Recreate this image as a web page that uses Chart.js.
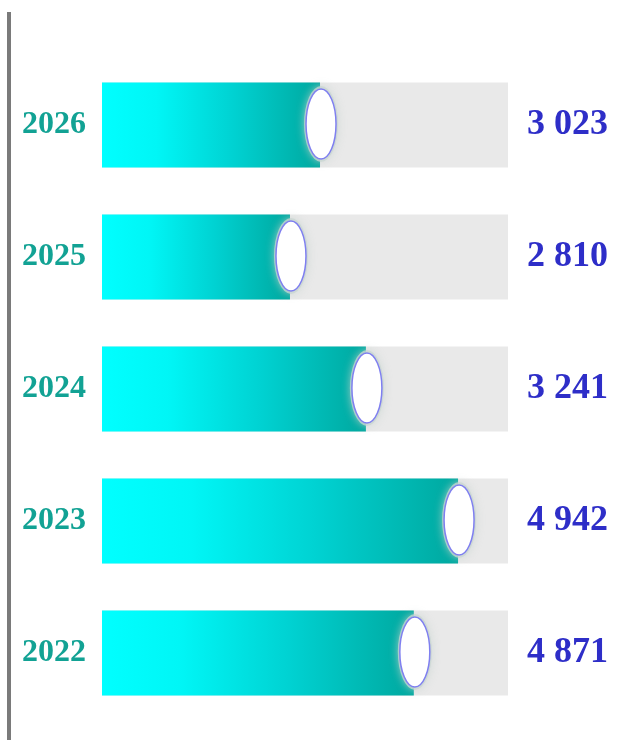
<!DOCTYPE html>
<html>
<head>
<meta charset="utf-8">
<script src="https://cdn.jsdelivr.net/npm/chart.js@4"></script>
<style>
  html, body { margin: 0; padding: 0; background: #ffffff; }
  #wrap { width: 621px; height: 740px; position: relative; }
</style>
</head>
<body>
<div id="wrap"><canvas id="progressChart"></canvas></div>
<script>
// Chart data
const years = ["2026", "2025", "2024", "2023", "2022"];
const totals = ["3 023", "2 810", "3 241", "4 942", "4 871"];
const fillLevels = [53.7, 46.3, 65.0, 87.7, 76.8]; // bar fill, % of track
const trackLevels = [100, 100, 100, 100, 100];

// Left grey rule
const leftRule = {
  id: "leftRule",
  beforeDraw(chart) {
    const ctx = chart.ctx;
    ctx.save();
    ctx.fillStyle = "#7a7a7a";
    ctx.fillRect(7, 12, 4, chart.height - 12);
    ctx.restore();
  }
};

// White knob at the end of each bar
const knobs = {
  id: "knobs",
  afterDatasetsDraw(chart) {
    const ctx = chart.ctx;
    const meta = chart.getDatasetMeta(0);
    meta.data.forEach(bar => {
      const cx = bar.x + 1, cy = bar.y - 1;
      ctx.save();
      // soft halo
      ctx.beginPath();
      ctx.ellipse(cx, cy, 17, 38, 0, 0, Math.PI * 2);
      ctx.shadowColor = "rgba(200, 212, 208, 1)";
      ctx.shadowBlur = 8;
      ctx.fillStyle = "rgba(200, 214, 210, 0.75)";
      ctx.fill();
      ctx.shadowColor = "transparent";
      ctx.beginPath();
      ctx.ellipse(cx, cy, 15, 35, 0, 0, Math.PI * 2);
      ctx.fillStyle = "#ffffff";
      ctx.fill();
      ctx.lineWidth = 1.5;
      ctx.strokeStyle = "#7f7ff0";
      ctx.stroke();
      ctx.restore();
    });
  }
};

function barGradient(context) {
  const chart = context.chart;
  const { chartArea, scales } = chart;
  if (!chartArea || context.raw === undefined) return "#00e0e0";
  const x0 = scales.x.getPixelForValue(0);
  const x1 = scales.x.getPixelForValue(context.raw);
  const g = chart.ctx.createLinearGradient(x0, 0, x1, 0);
  g.addColorStop(0, "#00ffff");
  g.addColorStop(0.25, "#00f6f6");
  g.addColorStop(0.6, "#00d2d2");
  g.addColorStop(1, "#00a89f");
  return g;
}

// keep label padding from squeezing the plot vertically
function fixSide(width) {
  return scale => {
    scale.width = width;
    scale.paddingTop = 0;
    scale.paddingBottom = 0;
  };
}

const serif = "'Liberation Serif', 'Times New Roman', serif";

new Chart(document.getElementById("progressChart"), {
  type: "bar",
  data: {
    labels: years,
    datasets: [
      {
        label: "Fill",
        data: fillLevels,
        backgroundColor: barGradient,
        order: 1,
        grouped: false,
        categoryPercentage: 1,
        barPercentage: 0.644
      },
      {
        label: "Track",
        data: trackLevels,
        backgroundColor: "#e9e9e9",
        order: 2,
        grouped: false,
        categoryPercentage: 1,
        barPercentage: 0.644
      }
    ]
  },
  options: {
    indexAxis: "y",
    responsive: true,
    maintainAspectRatio: false,
    animation: false,
    layout: { padding: { top: 59, bottom: 21, left: 0, right: 0 } },
    plugins: {
      legend: { display: false },
      tooltip: { enabled: false }
    },
    scales: {
      x: {
        display: false,
        min: 0,
        max: 100
      },
      y: {
        position: "left",
        grid: { display: false, drawTicks: false },
        border: { display: false },
        ticks: {
          color: "#12a294",
          padding: 16,
          font: { family: serif, size: 32, weight: "bold" }
        },
        afterFit: fixSide(102)
      },
      y2: {
        type: "category",
        position: "right",
        labels: totals,
        offset: true,
        grid: { display: false, drawTicks: false },
        border: { display: false },
        ticks: {
          color: "#2e2ec8",
          padding: 19,
          font: { family: serif, size: 36, weight: "bold" }
        },
        afterFit: fixSide(113)
      }
    }
  },
  plugins: [leftRule, knobs]
});
</script>
</body>
</html>
